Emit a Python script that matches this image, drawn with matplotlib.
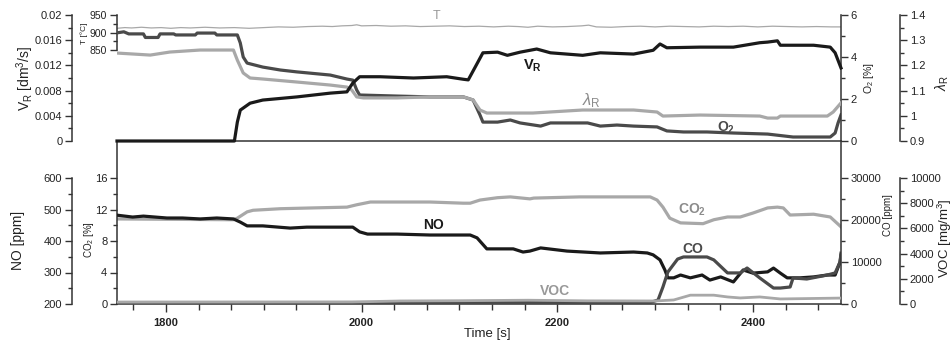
import numpy as np
import matplotlib
matplotlib.use("Agg")
import matplotlib.pyplot as plt
from matplotlib.ticker import FixedLocator, FuncFormatter, MultipleLocator

plt.rcParams['font.family'] = ['Liberation Sans', 'DejaVu Sans']
plt.rcParams['mathtext.fontset'] = 'custom'
plt.rcParams['mathtext.rm'] = 'Liberation Sans'
plt.rcParams['mathtext.it'] = 'Liberation Sans:italic'
plt.rcParams['mathtext.bf'] = 'Liberation Sans:bold'

# ---------------- data ----------------
t_vr = [1750, 1870, 1873, 1876, 1886, 1899, 1934, 1968, 1985, 1991, 1998, 2019, 2053, 2087,
        2104, 2109, 2116, 2124, 2139, 2149, 2162, 2179, 2193, 2226, 2244, 2278, 2298, 2305,
        2312, 2346, 2380, 2407, 2415, 2425, 2428, 2462, 2479, 2484, 2490]
vr = [0, 0, 0.003, 0.0049, 0.0060, 0.0065, 0.0070, 0.0076, 0.0078, 0.0092, 0.0102, 0.0102,
      0.0100, 0.0102, 0.0098, 0.0097, 0.0117, 0.0140, 0.0141, 0.0136, 0.0141, 0.0146, 0.0140,
      0.0136, 0.0140, 0.0138, 0.0144, 0.0154, 0.0148, 0.0149, 0.0149, 0.0156, 0.0157, 0.0159,
      0.0152, 0.0152, 0.0149, 0.0140, 0.0116]

t_o2 = [1750, 1757, 1762, 1777, 1779, 1792, 1794, 1808, 1810, 1830, 1832, 1850, 1852, 1873,
        1876, 1879, 1883, 1899, 1917, 1934, 1968, 1985, 1991, 1995, 1998, 2036, 2070, 2104,
        2114, 2121, 2124, 2139, 2152, 2162, 2183, 2193, 2231, 2244, 2261, 2278, 2302, 2312,
        2329, 2353, 2380, 2415, 2441, 2479, 2484, 2487, 2490]
o2 = [5.15, 5.2, 5.1, 5.1, 4.93, 4.93, 5.1, 5.1, 5.05, 5.05, 5.14, 5.14, 5.05, 5.05,
      4.67, 4.0, 3.71, 3.52, 3.38, 3.29, 3.14, 2.95, 2.90, 2.43, 2.19, 2.14, 2.10, 2.10,
      1.95, 1.24, 0.90, 0.90, 1.0, 0.86, 0.71, 0.86, 0.86, 0.71, 0.76, 0.71, 0.67, 0.48,
      0.43, 0.43, 0.38, 0.33, 0.19, 0.19, 0.38, 0.86, 1.24]

t_lam = [1750, 1784, 1804, 1835, 1869, 1873, 1879, 1886, 1899, 1934, 1968, 1985, 1990, 1995,
         2002, 2036, 2070, 2104, 2114, 2121, 2128, 2155, 2175, 2226, 2278, 2302, 2308, 2346,
         2407, 2415, 2425, 2428, 2476, 2482, 2490]
lam = [1.249, 1.241, 1.253, 1.261, 1.261, 1.221, 1.170, 1.150, 1.146, 1.134, 1.122, 1.114,
       1.102, 1.075, 1.071, 1.071, 1.075, 1.075, 1.063, 1.023, 1.011, 1.011, 1.011, 1.023,
       1.023, 1.015, 0.999, 1.003, 0.999, 0.991, 0.991, 0.999, 0.999, 1.015, 1.051]

t_T = [1750, 1758, 1765, 1775, 1785, 1795, 1805, 1815, 1825, 1840, 1855, 1870, 1885, 1900,
       1915, 1930, 1945, 1960, 1970, 1980, 1990, 1995, 2000, 2015, 2030, 2045, 2060, 2075,
       2090, 2105, 2120, 2135, 2150, 2160, 2170, 2180, 2195, 2210, 2225, 2232, 2240, 2255,
       2270, 2285, 2300, 2315, 2330, 2345, 2360, 2375, 2390, 2405, 2420, 2435, 2450, 2465,
       2480, 2490]
T = [912, 914, 913, 915, 913, 914, 912, 914, 913, 915, 913, 914, 912, 914,
     916, 915, 917, 918, 917, 919, 920, 922, 919, 920, 918, 919, 917, 918,
     919, 917, 918, 916, 918, 917, 915, 918, 916, 917, 919, 921, 916, 915,
     917, 918, 916, 918, 917, 916, 918, 917, 918, 916, 918, 917, 916, 917,
     916, 916]

t_no = [1750, 1766, 1777, 1801, 1817, 1835, 1852, 1869, 1876, 1883, 1899, 1927, 1944, 1991,
        1998, 2006, 2036, 2070, 2111, 2118, 2128, 2155, 2165, 2172, 2183, 2210, 2244, 2278,
        2292, 2298, 2305, 2310, 2313, 2319, 2326, 2336, 2348, 2356, 2367, 2380, 2390, 2400,
        2415, 2421, 2428, 2435, 2448, 2462, 2476, 2484, 2489, 2490]
no = [482, 476, 479, 473, 473, 470, 473, 470, 460, 448, 448, 441, 444, 444,
      429, 422, 422, 419, 419, 410, 375, 375, 365, 368, 378, 368, 362, 365,
      362, 356, 340, 308, 283, 283, 292, 283, 292, 276, 286, 270, 308, 298,
      302, 314, 298, 283, 283, 286, 292, 292, 333, 355]

t_co2 = [1750, 1869, 1873, 1883, 1889, 1917, 1950, 1985, 1995, 2009, 2036, 2070, 2104, 2111,
         2121, 2139, 2152, 2172, 2176, 2223, 2295, 2302, 2308, 2315, 2326, 2349, 2360, 2374,
         2387, 2400, 2415, 2425, 2431, 2438, 2462, 2479, 2490]
co2 = [10.8, 10.7, 10.9, 11.7, 11.9, 12.1, 12.2, 12.3, 12.6, 12.95, 12.95, 12.95, 12.8, 12.8,
       13.2, 13.5, 13.6, 13.35, 13.45, 13.6, 13.6, 13.2, 12.3, 10.9, 10.3, 10.2, 10.7, 11.05,
       11.05, 11.55, 12.2, 12.3, 12.2, 11.3, 11.4, 11.05, 9.8]

t_co = [1750, 2295, 2303, 2308, 2313, 2323, 2329, 2353, 2360, 2374, 2387, 2394, 2407, 2421,
        2428, 2438, 2441, 2455, 2476, 2484, 2489, 2490]
co = [350, 350, 950, 4050, 7600, 10700, 11200, 11200, 10500, 7400, 7400, 8570, 6200, 3800,
      3800, 4050, 6200, 5950, 6900, 7400, 10000, 12100]

t_voc = [1750, 1990, 2040, 2100, 2170, 2230, 2300, 2319, 2336, 2360, 2374, 2387, 2407, 2428, 2490]
voc = [150, 160, 240, 260, 300, 250, 240, 320, 700, 700, 560, 480, 560, 400, 470]

x_major = [1800, 2000, 2200, 2400]

# ---------------- styling ----------------
BLACK = '#1a1a1a'
DARK = '#4a4a4a'
LIGHT = '#a8a8a8'
SPINE = '#333333'
W, H = 953, 346


def rect(x0, y0, x1, y1):
    return [x0 / W, 1 - y1 / H, (x1 - x0) / W, (y1 - y0) / H]


fmt = FuncFormatter(lambda v, p: '%g' % round(v, 6))


def style(ax, side, pos, lim, majors, minors, bounds=None, labelsize=8):
    for s in ax.spines.values():
        s.set_visible(False)
    sp = ax.spines[side]
    sp.set_visible(True)
    sp.set_position(('axes', pos))
    sp.set_linewidth(1.1)
    sp.set_color(SPINE)
    if bounds is not None:
        sp.set_bounds(*bounds)
    ax.set_ylim(*lim)
    ax.yaxis.set_ticks_position(side)
    ax.yaxis.set_major_locator(FixedLocator(majors))
    ax.yaxis.set_minor_locator(FixedLocator(minors))
    ax.yaxis.set_major_formatter(fmt)
    ax.tick_params(axis='y', which='major', direction='out', length=5, width=1,
                   color=SPINE, labelsize=labelsize, labelcolor='#222222', pad=2)
    ax.tick_params(axis='y', which='minor', direction='out', length=3, width=1, color=SPINE)


fig = plt.figure(figsize=(9.53, 3.46), dpi=100)

off_l = -45 / 724
off_r = 1 + 59 / 724

# ---------- top panel ----------
axV = fig.add_axes(rect(117, 15, 841, 141))
axV.patch.set_visible(False)
axV.set_xlim(1750, 2490)
axV.xaxis.set_visible(False)
style(axV, 'left', off_l, (0, 0.02), np.arange(0, 0.02001, 0.004), np.arange(0.002, 0.02, 0.004))

axT = axV.twinx()
style(axT, 'left', 0, (590, 950), [850, 900, 950], [875, 925], bounds=(850, 950), labelsize=7.5)

axO = axV.twinx()
style(axO, 'right', 1, (0, 6), [0, 2, 4, 6], [1, 3, 5])

axL = axV.twinx()
style(axL, 'right', off_r, (0.9, 1.4), np.arange(0.9, 1.401, 0.1), np.arange(0.95, 1.4, 0.1))

axT.plot(t_T, T, color=LIGHT, lw=0.9)
axL.plot(t_lam, lam, color=LIGHT, lw=2.3)
axO.plot(t_o2, o2, color=DARK, lw=2.3)
axV.plot(t_vr, vr, color=BLACK, lw=2.3, clip_on=False, zorder=5)
axV.set_zorder(5)

tr = axV.get_xaxis_transform()
axV.text(2077, 0.99, 'T', transform=tr, color='#999999', fontsize=9, ha='center', va='center')
axV.text(2175, 0.595, r'$\mathbf{V}_\mathbf{R}$', transform=tr, color=BLACK, fontsize=10.5,
         ha='center', va='center')
axV.text(2235, 0.317, r'$\lambda_\mathrm{R}$', transform=tr, color='#8c8c8c', fontsize=12,
         ha='center', va='center')
axV.text(2372, 0.103, r'$\mathbf{O}_\mathbf{2}$', transform=tr, color=DARK, fontsize=10,
         ha='center', va='center')

# ---------- bottom panel ----------
axC2 = fig.add_axes(rect(117, 141, 841, 304))
axC2.set_xlim(1750, 2490)
style(axC2, 'left', 0, (0, 16 * 163 / 126), np.arange(0, 16.01, 4), np.arange(2, 16, 4))
for s in ('top', 'bottom'):
    axC2.spines[s].set_visible(True)
    axC2.spines[s].set_linewidth(1.1)
    axC2.spines[s].set_color(SPINE)
axC2.xaxis.set_major_locator(FixedLocator(x_major))
axC2.xaxis.set_minor_locator(MultipleLocator(200 / 6))
axC2.tick_params(axis='x', which='major', direction='out', length=6, width=1, color=SPINE,
                 labelsize=8, labelcolor='#222222', pad=4)
axC2.tick_params(axis='x', which='minor', direction='out', length=4, width=1, color=SPINE)
for lb in axC2.get_xticklabels():
    lb.set_fontweight('bold')

axN = axC2.twinx()
style(axN, 'left', off_l, (200, 200 + 400 * 163 / 126), np.arange(200, 601, 100),
      np.arange(250, 600, 100), bounds=(200, 600))

axCO = axC2.twinx()
style(axCO, 'right', 1, (0, 30000 * 163 / 126), np.arange(0, 30001, 10000),
      np.arange(5000, 30000, 10000))

axVOC = axC2.twinx()
style(axVOC, 'right', off_r, (0, 10000 * 163 / 126), np.arange(0, 10001, 2000),
      np.arange(1000, 10000, 2000), bounds=(0, 10000))

axVOC.plot(t_voc, voc, color=LIGHT, lw=2.0)
axC2.plot(t_co2, co2, color=LIGHT, lw=2.3)
axCO.plot(t_co, co, color=DARK, lw=2.3)
axN.plot(t_no, no, color=BLACK, lw=2.3)

trb = axC2.get_xaxis_transform()
axC2.text(2073, 0.485, 'NO', transform=trb, color=BLACK, fontsize=10, fontweight='bold',
          ha='center', va='center', zorder=10)
axC2.text(2338, 0.577, r'$\mathbf{CO}_\mathbf{2}$', transform=trb, color='#8c8c8c', fontsize=10,
          ha='center', va='center')
axC2.text(2339, 0.337, 'CO', transform=trb, color=DARK, fontsize=10, fontweight='bold',
          ha='center', va='center')
axC2.text(2198, 0.08, 'VOC', transform=trb, color='#999999', fontsize=10, fontweight='bold',
          ha='center', va='center')

# ---------- axis labels ----------
def ftext(x, y, s, **kw):
    fig.text(x / W, 1 - y / H, s, ha='center', va='center', color='#222222', **kw)

ftext(25, 78, r'V$_\mathrm{R}$ [dm$^3$/s]', rotation=90, fontsize=10)
ftext(84, 33, 'T [°C]', rotation=90, fontsize=6)
ftext(869, 78, r'O$_2$ [%]', rotation=90, fontsize=7.5)
ftext(942, 83, r'$\lambda_\mathrm{R}$', rotation=90, fontsize=10)
ftext(18, 240, 'NO [ppm]', rotation=90, fontsize=10)
ftext(89, 240, r'CO$_2$ [%]', rotation=90, fontsize=7)
ftext(888, 215, 'CO [ppm]', rotation=90, fontsize=7)
ftext(945, 238, r'VOC [mg/m$^3$]', rotation=90, fontsize=9.5)
ftext(487, 334, 'Time [s]', fontsize=9.5)

fig.savefig('out.png', dpi=100)
